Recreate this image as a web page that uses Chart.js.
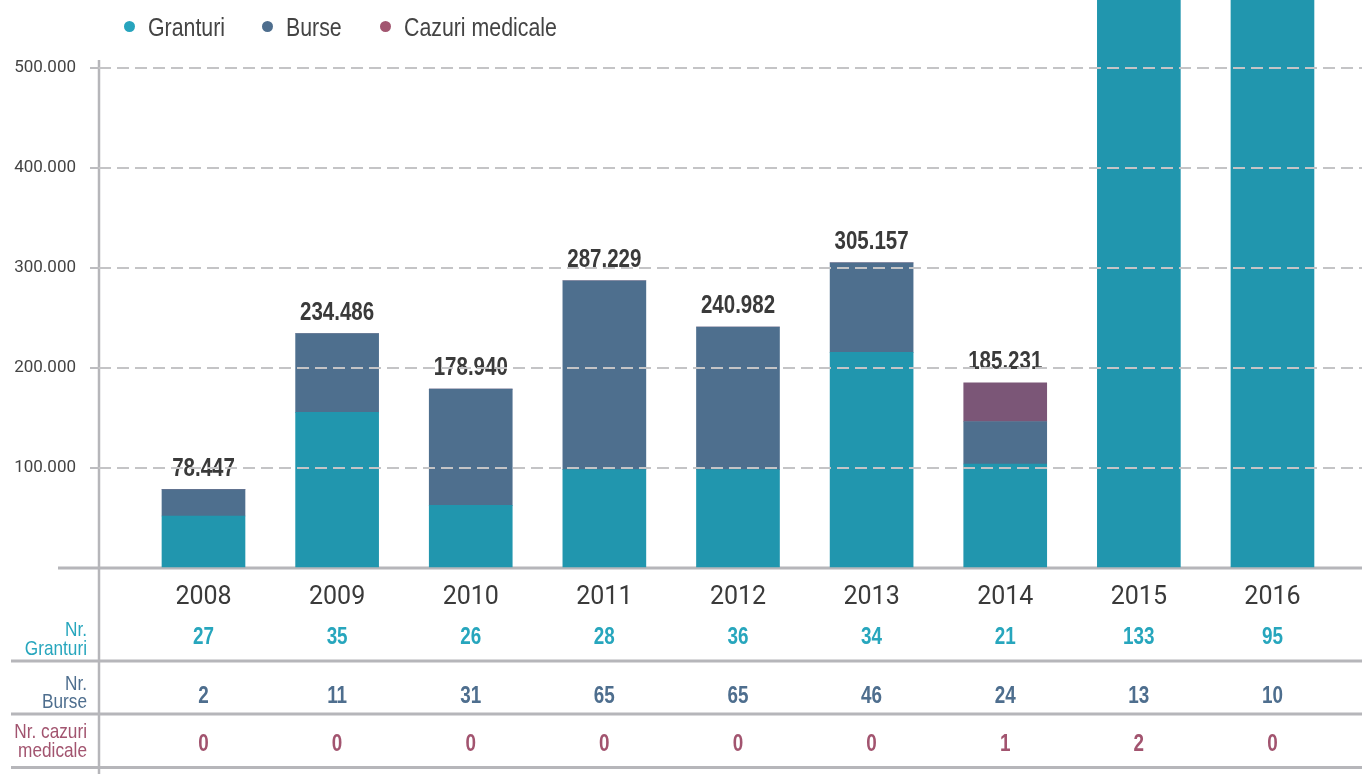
<!DOCTYPE html>
<html>
<head>
<meta charset="utf-8">
<script src="https://cdn.jsdelivr.net/npm/chart.js@4.4.1/dist/chart.umd.min.js"></script>
<style>
html,body{margin:0;padding:0;background:#fff;}
#wrap{position:relative;width:1362px;height:774px;overflow:hidden;}
.li{position:absolute;top:14px;height:26px;line-height:26px;font-family:"Liberation Sans",Arial,sans-serif;font-size:26px;color:#444;white-space:nowrap;}
.li .t{position:absolute;left:24px;top:0;transform:scaleX(0.82);transform-origin:0 0;}
.dot{position:absolute;left:0;top:7px;width:11px;height:11px;border-radius:50%;}
</style>
</head>
<body>
<div id="wrap">
<canvas id="c"></canvas>
<div id="legend"></div>
</div>
<script>
// ---- data ----
const years = [2008, 2009, 2010, 2011, 2012, 2013, 2014, 2015, 2016];
const granturi = [52000, 155700, 62700, 98400, 98400, 215700, 104000, 1150000, 1000000];
const burse    = [26447, 78786, 116240, 188829, 142582, 89457, 42531, 60000, 45000];
const medicale = [0, 0, 0, 0, 0, 0, 38700, 15000, 0];
const totals   = [78447, 234486, 178940, 287229, 240982, 305157, 185231, null, null];
const nrGranturi = [27, 35, 26, 28, 36, 34, 21, 133, 95];
const nrBurse    = [2, 11, 31, 65, 65, 46, 24, 13, 10];
const nrMedicale = [0, 0, 0, 0, 0, 0, 1, 2, 0];
const seriesNames = ['Granturi', 'Burse', 'Cazuri medicale'];
const rowLabels = [['Nr.', 'Granturi'], ['Nr.', 'Burse'], ['Nr. cazuri', 'medicale']];

// ---- styles ----
const C_TEAL = '#2196ae', C_BURSE = '#4e6f8e', C_MED = '#7b5677';
const T_TEAL = '#27a6bd', T_BURSE = '#4e6e8e', T_MED = '#a2546f';
const DOT = ['#27a4bd', '#4e6e8e', '#a25670'];
const AXIS = '#b6b6ba';
const FONT = '"Liberation Sans",Arial,sans-serif';
const SX = 0.82; // condensed look

function fmt(v) {
  return String(v).replace(/\B(?=(\d{3})+(?!\d))/g, '.');
}
function ctext(ctx, s, x, y, align) {
  ctx.save();
  ctx.translate(x, y);
  ctx.scale(SX, 1);
  ctx.textAlign = align;
  ctx.fillText(s, 0, 0);
  ctx.restore();
}

// legend (HTML)
const legend = document.getElementById('legend');
const legLeft = [124, 262, 380];
seriesNames.forEach((n, i) => {
  const d = document.createElement('div');
  d.className = 'li';
  d.style.left = legLeft[i] + 'px';
  d.innerHTML = '<span class="dot" style="background:' + DOT[i] + '"></span><span class="t">' + n + '</span>';
  legend.appendChild(d);
});

const pts = arr => years.map((y, i) => ({x: y, y: arr[i]}));

const decor = {
  id: 'decor',
  beforeDatasetsDraw(chart) {
    const {ctx, chartArea, scales: {y}} = chart;
    const y0 = y.getPixelForValue(0);
    ctx.save();
    ctx.strokeStyle = AXIS;
    ctx.lineWidth = 3;
    ctx.beginPath(); ctx.moveTo(58, y0); ctx.lineTo(chart.width, y0); ctx.stroke();
    ctx.lineWidth = 2.5;
    ctx.beginPath(); ctx.moveTo(chartArea.left, chartArea.top - 8); ctx.lineTo(chartArea.left, chart.height); ctx.stroke();
    ctx.lineWidth = 3;
    [661, 714, 767.5].forEach(yy => {
      ctx.beginPath(); ctx.moveTo(11, yy); ctx.lineTo(chart.width, yy); ctx.stroke();
    });
    ctx.restore();
  },
  afterDatasetsDraw(chart) {
    const {ctx, scales: {x, y}} = chart;
    ctx.save();
    ctx.textBaseline = 'alphabetic';
    // totals
    ctx.font = 'bold 25px ' + FONT;
    ctx.fillStyle = '#3a3a3a';
    years.forEach((yr, i) => {
      if (totals[i] == null) return;
      ctext(ctx, fmt(totals[i]), x.getPixelForValue(yr), y.getPixelForValue(totals[i]) - 14, 'center');
    });
    // table values
    ctx.font = 'bold 23px ' + FONT;
    const rows = [[nrGranturi, T_TEAL, 644], [nrBurse, T_BURSE, 703], [nrMedicale, T_MED, 751]];
    rows.forEach(([arr, col, base]) => {
      ctx.fillStyle = col;
      years.forEach((yr, i) => ctext(ctx, String(arr[i]), x.getPixelForValue(yr), base, 'center'));
    });
    // row labels
    ctx.font = '21px ' + FONT;
    const lab = [[T_TEAL, 636, 655], [T_BURSE, 690, 708], [T_MED, 738, 756.5]];
    lab.forEach(([col, b1, b2], k) => {
      ctx.fillStyle = col;
      ctext(ctx, rowLabels[k][0], 87, b1, 'right');
      ctext(ctx, rowLabels[k][1], 87, b2, 'right');
    });
    ctx.restore();
  }
};

new Chart(document.getElementById('c'), {
  type: 'bar',
  data: {
    datasets: [
      {label: seriesNames[0], data: pts(granturi), backgroundColor: C_TEAL, clip: false},
      {label: seriesNames[1], data: pts(burse), backgroundColor: C_BURSE, clip: false},
      {label: seriesNames[2], data: pts(medicale), backgroundColor: C_MED, clip: false}
    ]
  },
  options: {
    responsive: true,
    maintainAspectRatio: false,
    animation: false,
    devicePixelRatio: 1,
    layout: {padding: {top: 68, left: 0, right: 0, bottom: 0}},
    datasets: {bar: {barThickness: 83, borderWidth: 0}},
    plugins: {legend: {display: false}, tooltip: {enabled: false}},
    scales: {
      x: {
        type: 'linear',
        stacked: true,
        offset: false,
        min: 2007.218,
        max: 2016.67,
        grid: {display: false, drawTicks: false},
        border: {display: false},
        afterFit: s => { s.height = 206; },
        ticks: {
          stepSize: 1,
          includeBounds: false,
          autoSkip: false,
          maxRotation: 0,
          padding: 15,
          color: '#3a3a3a',
          font: {family: 'Roboto', size: 25},
          callback: v => Number.isInteger(v) ? String(v) : ''
        }
      },
      y: {
        stacked: true,
        min: 0,
        max: 500000,
        afterFit: s => { s.width = 99; },
        border: {display: false, dash: [12, 6]},
        grid: {
          z: 1,
          lineWidth: 2,
          tickLength: 9,
          color: c => c.tick && c.tick.value === 0 ? 'rgba(0,0,0,0)' : '#c4c4c6',
          tickColor: c => c.tick && c.tick.value === 0 ? 'rgba(0,0,0,0)' : '#bdbdc0',
          tickWidth: 2
        },
        ticks: {
          stepSize: 100000,
          includeBounds: false,
          padding: 14,
          color: '#444',
          font: {family: 'Roboto', size: 17},
          callback: v => v === 0 ? '' : fmt(v)
        }
      }
    }
  },
  plugins: [decor]
});
</script>
</body>
</html>
